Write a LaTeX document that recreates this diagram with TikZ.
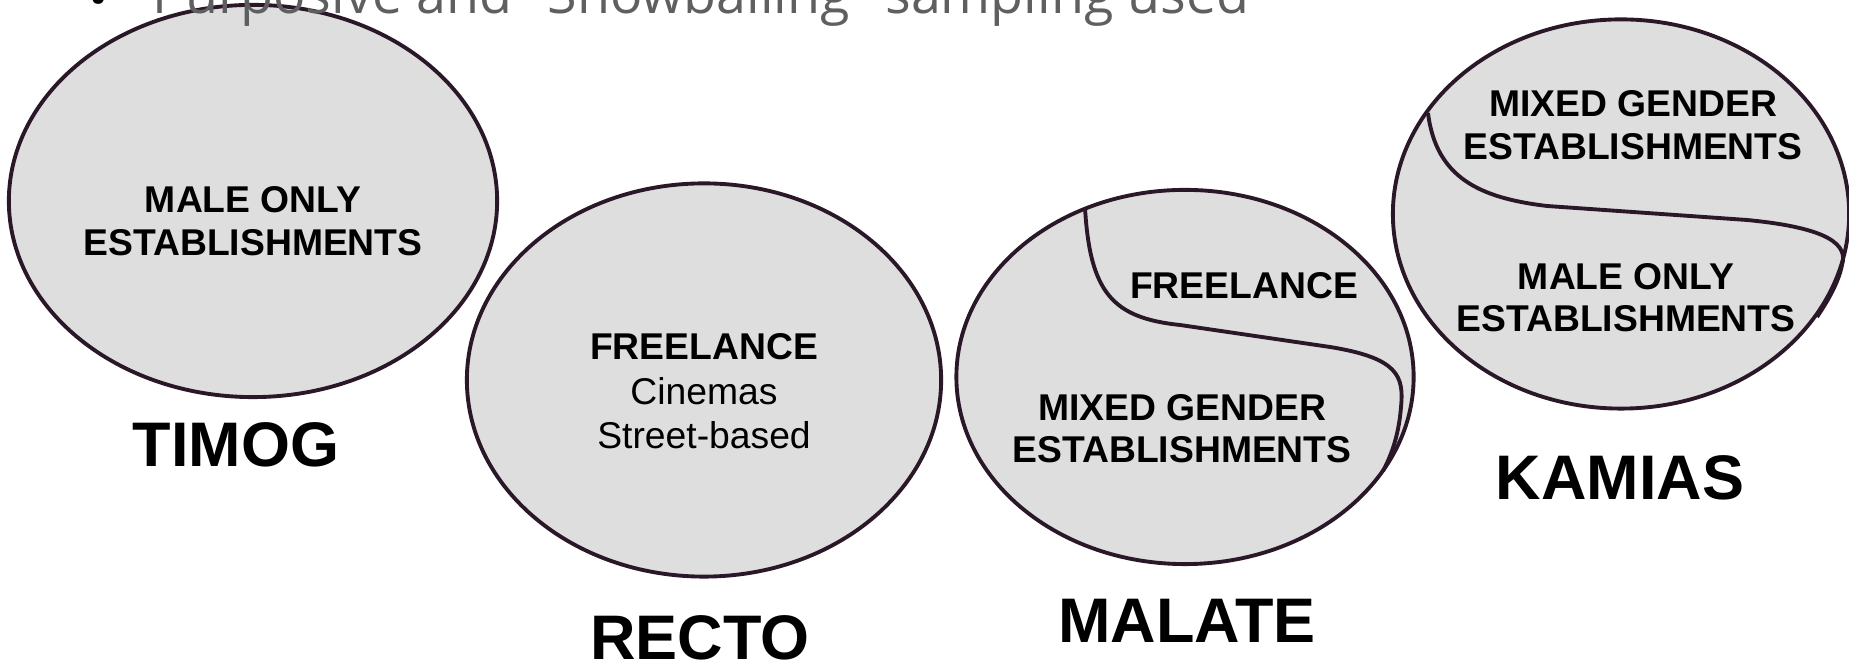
\documentclass[tikz,border=0pt]{standalone}
\usepackage{fontspec}
\setmainfont{Liberation Sans}
\newfontfamily\kopfschrift{Open Sans}
\usetikzlibrary{shapes.geometric}

\definecolor{rand}{RGB}{42,24,40}
\definecolor{flaeche}{RGB}{222,222,222}
\definecolor{textgrau}{RGB}{95,95,95}

\tikzset{
	gebiet/.style={ellipse, draw=rand, fill=flaeche, line width=1.1pt, inner sep=0pt, outer sep=0pt},
	trennlinie/.style={draw=rand, line width=1.1pt},
	inhalt/.style={align=center, inner sep=0pt, font=\fontsize{10.6}{12.1}\selectfont},
	ort/.style={anchor=base, inner sep=0pt, font=\fontsize{17.9}{20}\selectfont\bfseries},
}

\begin{document}
\begin{tikzpicture}[x=0.01cm,y=-0.01cm]
			\useasboundingbox (0,0) rectangle (1849,662);

			%%Gebiete
			\node[gebiet, minimum width=4.88cm, minimum height=3.92cm] (timog) at (253,201) {};
			\node[gebiet, minimum width=4.74cm, minimum height=3.93cm] (recto) at (704,380) {};
			\node[gebiet, minimum width=4.57cm, minimum height=3.74cm] (malate) at (1185,377) {};
			\node[gebiet, minimum width=4.56cm, minimum height=3.89cm] (kamias) at (1621,214) {};

			%%Trennlinien
			\draw[trennlinie] (1085,208) .. controls (1090,292) and (1112,318) .. (1180,325)
				-- (1330,347) .. controls (1398,358) and (1404,376) .. (1401,407)
				.. controls (1399,432) and (1393,452) .. (1383,471);
			\draw[trennlinie] (1428,113) .. controls (1436,178) and (1480,198) .. (1547,206)
				-- (1747,220) .. controls (1830,228) and (1848,245) .. (1842,265)
				.. controls (1838,285) and (1825,305) .. (1817,317);

			%%Beschriftung innen
			\node[inhalt] (timog-m) at (253,221) {\bfseries MALE ONLY\\\bfseries ESTABLISHMENTS};
			\node[inhalt, font=\fontsize{10.6}{12.7}\selectfont] (recto-f) at (704,391.5) {\bfseries FREELANCE\\Cinemas\\Street-based};
			\node[inhalt] (malate-f) at (1244,285.5) {\bfseries FREELANCE};
			\node[inhalt] (malate-g) at (1182,428.5) {\bfseries MIXED GENDER\\\bfseries ESTABLISHMENTS};
			\node[inhalt] (kamias-g) at (1633,125) {\bfseries MIXED GENDER\\\bfseries ESTABLISHMENTS};
			\node[inhalt] (kamias-m) at (1626,297.5) {\bfseries MALE ONLY\\\bfseries ESTABLISHMENTS};

			%%Ortsnamen
			\foreach \x/\y/\name in {236/467/TIMOG, 700/660/RECTO, 1187/643/MALATE, 1620/500/KAMIAS}
				\node[ort] (ort-\name) at (\x,\y) {\name};

			%%Kopfzeile
			\node[anchor=base west, inner sep=0pt, text=textgrau, font=\kopfschrift\fontsize{15.3}{18}\selectfont] (kopf) at (88,14) {\raisebox{-0.06em}{\textcolor{black}{\textbullet}}\hspace{0.44cm}Purposive and "Snowballing" sampling used};
		\end{tikzpicture}
\end{document}
